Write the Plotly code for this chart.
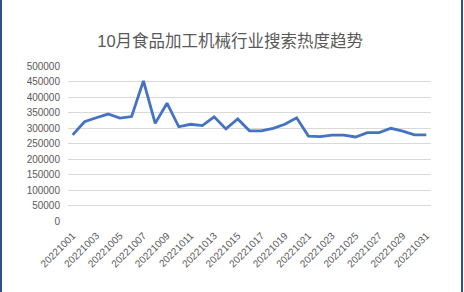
import plotly.graph_objects as go

dates = [f"202210{d:02d}" for d in range(1, 32)]
values = [278000, 320000, 333000, 345000, 332000, 337000, 452000, 315000, 380000, 304000,
          312000, 308000, 336000, 297000, 329000, 291000, 291000, 299000, 312000, 333000,
          274000, 272000, 277000, 277000, 271000, 285000, 285000, 299000, 290000, 278000, 278000]
tick_labels = dates[::2]
y_ticks = list(range(0, 500001, 50000))
title_text = "10月食品加工机械行业搜索热度趋势"

W, H = 464, 292
L, R, T, B = 68, 33, 66, 71

fig = go.Figure()
fig.add_trace(go.Scatter(x=dates, y=values, mode="lines",
                         line=dict(color="#4472C4", width=2.8), showlegend=False))

pw = W - L - R
ph = H - T - B
def px_x(p):
    return (p - L) / pw
def px_y(p):
    return (H - B - p) / ph

shapes = [
    dict(type="line", xref="paper", yref="paper", x0=px_x(1), x1=px_x(1), y0=px_y(0), y1=px_y(H),
         line=dict(color="#2F4F8F", width=2)),
    dict(type="line", xref="paper", yref="paper", x0=px_x(462), x1=px_x(462), y0=px_y(0), y1=px_y(H),
         line=dict(color="#2F4F8F", width=2)),
]

fig.update_layout(
    width=W, height=H,
    margin=dict(l=L, r=R, t=T, b=B),
    paper_bgcolor="white", plot_bgcolor="white",
    font=dict(family="Liberation Sans, Noto Sans CJK SC, sans-serif", color="#595959", size=10),
    title=dict(text=title_text, x=0.496, xref="container", xanchor="center", y=1 - 41 / H, yanchor="middle",
               font=dict(size=16.5, color="#595959", family="Liberation Sans, Noto Sans CJK SC, sans-serif")),
    shapes=shapes,
    xaxis=dict(type="category", tickvals=tick_labels, ticktext=tick_labels, tickangle=-45,
               showgrid=False, showline=False, zeroline=False, ticks="", ticklabelstandoff=6,
               range=[-0.4, len(dates) - 0.6], tickfont=dict(size=10, color="#595959")),
    yaxis=dict(range=[0, 500000], tickvals=y_ticks, ticktext=[str(v) for v in y_ticks],
               showgrid=True, gridcolor="#D9D9D9", gridwidth=1, zeroline=False, showline=False,
               ticks="", ticklabelstandoff=7, tickfont=dict(size=10, color="#595959")),
)

fig.write_html("out.html")
